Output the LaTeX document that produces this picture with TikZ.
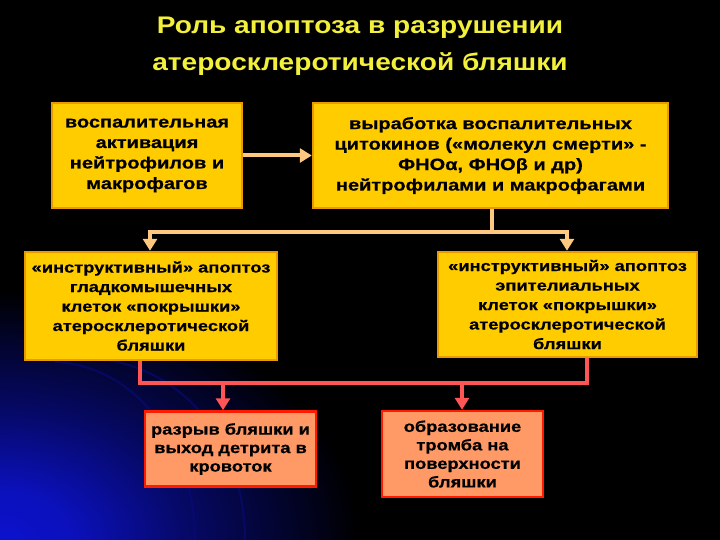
\documentclass[tikz,border=0pt]{standalone}
\usepackage{fontspec}
\setmainfont{Liberation Sans}
\newfontfamily\boxfont[FakeStretch=1.22,BoldFeatures={FakeBold=0.6}]{Liberation Sans}
\newfontfamily\smallboxfont[FakeStretch=1.18,BoldFeatures={FakeBold=0.6}]{Liberation Sans}
\newfontfamily\titlefont[FakeStretch=1.17]{Liberation Sans}
\usetikzlibrary{arrows.meta}
\definecolor{boxY}{HTML}{FFCC00}
\definecolor{boxYb}{HTML}{E89A00}
\definecolor{lineO}{HTML}{FFC880}
\definecolor{lineR}{HTML}{FF5555}
\definecolor{boxS}{HTML}{FF9966}
\definecolor{boxSb}{HTML}{FF1A00}
\definecolor{glow}{HTML}{0C12CC}
\definecolor{titleY}{HTML}{F2F03A}
\pgfdeclareradialshading{glowshade}{\pgfpoint{0bp}{0bp}}{color(0bp)=(glow); color(5bp)=(glow!92!black); color(13bp)=(glow!50!black); color(25bp)=(black); color(50bp)=(black)}
\tikzset{
  ybox/.style={draw=boxYb, fill=boxY, line width=2.5pt, align=center, inner sep=2pt,
    font=\boxfont\bfseries\fontsize{16.4}{20.5}\selectfont},
  ybox5/.style={ybox, font=\boxfont\bfseries\fontsize{15}{19.5}\selectfont},
  sbox/.style={draw=boxSb, fill=boxS, line width=2.5pt, align=center, inner sep=2pt,
    font=\smallboxfont\bfseries\fontsize{15.5}{18.5}\selectfont},
  oline/.style={draw=lineO, line width=4pt},
  rline/.style={draw=lineR, line width=4.5pt},
  otip/.style={-{Triangle[width=14pt,length=12pt]}},
  arcline/.style={draw=glow!60!black, line width=2pt, opacity=0.6},
}
\begin{document}
\begin{tikzpicture}[x=1pt,y=-1pt]
\useasboundingbox (0,0) rectangle (720,540);
\fill[black] (0,0) rectangle (720,540);
\begin{scope}
\clip (0,0) rectangle (720,540);
\shade[shading=glowshade] (0,540) ellipse [x radius=360, y radius=250];
\draw[arcline] (55,362) .. controls (140,366) and (195,450) .. (195,540);
\draw[arcline] (92,358) .. controls (190,366) and (245,450) .. (245,540);
\end{scope}
\node[text=titleY, font=\titlefont\bfseries\fontsize{24}{37}\selectfont, align=center] (title) at (360,46)
  {Роль апоптоза в разрушении\\атеросклеротической бляшки};
\node[ybox, minimum width=190, minimum height=105] (b1) at (147,155.5)
  {воспалительная\\активация\\нейтрофилов и\\макрофагов};
\node[ybox, minimum width=355, minimum height=105] (b2) at (490.5,155.5)
  {выработка воспалительных\\цитокинов («молекул смерти» -\\ФНОα, ФНОβ и др)\\нейтрофилами и макрофагами};
\node[ybox5, minimum width=252, minimum height=108] (b3) at (151,306)
  {«инструктивный» апоптоз\\гладкомышечных\\клеток «покрышки»\\атеросклеротической\\бляшки};
\node[ybox5, minimum width=259, minimum height=105] (b4) at (567.5,304.5)
  {«инструктивный» апоптоз\\эпителиальных\\клеток «покрышки»\\атеросклеротической\\бляшки};
\node[sbox, minimum width=171, minimum height=75] (b5) at (230.5,449)
  {разрыв бляшки и\\выход детрита в\\кровоток};
\node[sbox, minimum width=161, minimum height=86] (b6) at (462.5,454)
  {образование\\тромба на\\поверхности\\бляшки};
% orange connectors
\draw[oline, otip] (b1.east) -- (b2.west);
\coordinate (hL) at (150,232);
\coordinate (hR) at (567,232);
\coordinate (hM) at (492,232);
\draw[oline] (b2.south -| hM) -- (hM);
\draw[oline, line cap=rect] (hL) -- (hR);
\draw[oline, otip] (hL) -- (hL |- b3.north);
\draw[oline, otip] (hR) -- (hR |- b4.north);
% red connectors
\coordinate (rL) at (140,383);
\coordinate (rR) at (587,383);
\coordinate (r5) at (223,383);
\coordinate (r6) at (462,383);
\draw[rline, line join=miter] (b3.south -| rL) -- (rL) -- (rR) -- (b4.south -| rR);
\draw[rline, otip] (r5) -- (r5 |- b5.north);
\draw[rline, otip] (r6) -- (r6 |- b6.north);
\end{tikzpicture}
\end{document}
